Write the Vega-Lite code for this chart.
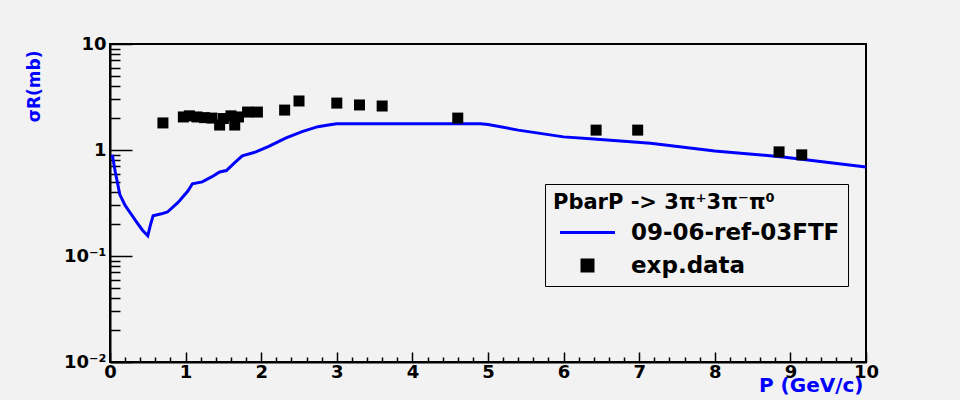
{
  "$schema": "https://vega.github.io/schema/vega-lite/v6.json",
  "width": 756,
  "height": 318,
  "autosize": "none",
  "padding": {"left": 110, "top": 44, "right": 94, "bottom": 38},
  "background": "#f2f2f2",
  "config": {
    "view": {"stroke": "black", "strokeWidth": 2, "fill": "#f2f2f2"},
    "font": "DejaVu Sans",
    "axis": {"labelFont": "DejaVu Sans", "labelFontWeight": "bold", "labelFontSize": 18, "labelColor": "black", "domainColor": "black", "domainWidth": 2, "tickColor": "black", "tickWidth": 1.5, "grid": false, "titleFont": "DejaVu Sans", "titleFontWeight": "bold", "titleColor": "#0000ff"}
  },
  "datasets": {
    "curve": [
      {"p": 0.03, "sigma": 0.9, "series": "09-06-ref-03FTF"},
      {"p": 0.07, "sigma": 0.62, "series": "09-06-ref-03FTF"},
      {"p": 0.13, "sigma": 0.38, "series": "09-06-ref-03FTF"},
      {"p": 0.2, "sigma": 0.3, "series": "09-06-ref-03FTF"},
      {"p": 0.26, "sigma": 0.26, "series": "09-06-ref-03FTF"},
      {"p": 0.35, "sigma": 0.21, "series": "09-06-ref-03FTF"},
      {"p": 0.43, "sigma": 0.175, "series": "09-06-ref-03FTF"},
      {"p": 0.5, "sigma": 0.155, "series": "09-06-ref-03FTF"},
      {"p": 0.53, "sigma": 0.19, "series": "09-06-ref-03FTF"},
      {"p": 0.57, "sigma": 0.24, "series": "09-06-ref-03FTF"},
      {"p": 0.68, "sigma": 0.25, "series": "09-06-ref-03FTF"},
      {"p": 0.76, "sigma": 0.26, "series": "09-06-ref-03FTF"},
      {"p": 0.9, "sigma": 0.32, "series": "09-06-ref-03FTF"},
      {"p": 1.03, "sigma": 0.41, "series": "09-06-ref-03FTF"},
      {"p": 1.09, "sigma": 0.48, "series": "09-06-ref-03FTF"},
      {"p": 1.22, "sigma": 0.5, "series": "09-06-ref-03FTF"},
      {"p": 1.35, "sigma": 0.56, "series": "09-06-ref-03FTF"},
      {"p": 1.45, "sigma": 0.62, "series": "09-06-ref-03FTF"},
      {"p": 1.54, "sigma": 0.64, "series": "09-06-ref-03FTF"},
      {"p": 1.65, "sigma": 0.76, "series": "09-06-ref-03FTF"},
      {"p": 1.75, "sigma": 0.88, "series": "09-06-ref-03FTF"},
      {"p": 1.93, "sigma": 0.96, "series": "09-06-ref-03FTF"},
      {"p": 2.1, "sigma": 1.08, "series": "09-06-ref-03FTF"},
      {"p": 2.33, "sigma": 1.3, "series": "09-06-ref-03FTF"},
      {"p": 2.55, "sigma": 1.5, "series": "09-06-ref-03FTF"},
      {"p": 2.75, "sigma": 1.66, "series": "09-06-ref-03FTF"},
      {"p": 2.93, "sigma": 1.74, "series": "09-06-ref-03FTF"},
      {"p": 3.0, "sigma": 1.77, "series": "09-06-ref-03FTF"},
      {"p": 4.9, "sigma": 1.77, "series": "09-06-ref-03FTF"},
      {"p": 5.0, "sigma": 1.74, "series": "09-06-ref-03FTF"},
      {"p": 5.4, "sigma": 1.54, "series": "09-06-ref-03FTF"},
      {"p": 6.0, "sigma": 1.33, "series": "09-06-ref-03FTF"},
      {"p": 6.4, "sigma": 1.27, "series": "09-06-ref-03FTF"},
      {"p": 7.15, "sigma": 1.16, "series": "09-06-ref-03FTF"},
      {"p": 8.0, "sigma": 0.98, "series": "09-06-ref-03FTF"},
      {"p": 8.9, "sigma": 0.86, "series": "09-06-ref-03FTF"},
      {"p": 10.0, "sigma": 0.69, "series": "09-06-ref-03FTF"}
    ],
    "exp": [
      {"p": 0.7, "sigma": 1.8, "series": "exp.data"},
      {"p": 0.97, "sigma": 2.05, "series": "exp.data"},
      {"p": 1.05, "sigma": 2.1, "series": "exp.data"},
      {"p": 1.15, "sigma": 2.05, "series": "exp.data"},
      {"p": 1.25, "sigma": 2.02, "series": "exp.data"},
      {"p": 1.35, "sigma": 2.0, "series": "exp.data"},
      {"p": 1.45, "sigma": 1.72, "series": "exp.data"},
      {"p": 1.5, "sigma": 1.98, "series": "exp.data"},
      {"p": 1.6, "sigma": 2.1, "series": "exp.data"},
      {"p": 1.65, "sigma": 1.72, "series": "exp.data"},
      {"p": 1.7, "sigma": 2.05, "series": "exp.data"},
      {"p": 1.82, "sigma": 2.28, "series": "exp.data"},
      {"p": 1.95, "sigma": 2.28, "series": "exp.data"},
      {"p": 2.31, "sigma": 2.38, "series": "exp.data"},
      {"p": 2.5, "sigma": 2.9, "series": "exp.data"},
      {"p": 3.0, "sigma": 2.77, "series": "exp.data"},
      {"p": 3.3, "sigma": 2.66, "series": "exp.data"},
      {"p": 3.6, "sigma": 2.6, "series": "exp.data"},
      {"p": 4.6, "sigma": 2.0, "series": "exp.data"},
      {"p": 6.43, "sigma": 1.54, "series": "exp.data"},
      {"p": 6.98, "sigma": 1.54, "series": "exp.data"},
      {"p": 8.85, "sigma": 0.96, "series": "exp.data"},
      {"p": 9.15, "sigma": 0.9, "series": "exp.data"}
    ]
  },
  "encoding": {
    "x": {
      "field": "p", "type": "quantitative",
      "scale": {"domain": [0, 10], "nice": false, "zero": false},
      "axis": {
        "title": "P (GeV/c)",
        "values": [0,0.2,0.4,0.6,0.8,1,1.2,1.4,1.6,1.8,2,2.2,2.4,2.6,2.8,3,3.2,3.4,3.6,3.8,4,4.2,4.4,4.6,4.8,5,5.2,5.4,5.6,5.8,6,6.2,6.4,6.6,6.8,7,7.2,7.4,7.6,7.8,8,8.2,8.4,8.6,8.8,9,9.2,9.4,9.6,9.8,10],
        "labelExpr": "abs(datum.value - round(datum.value)) < 0.001 ? format(datum.value, 'd') : ''",
        "tickSize": {"condition": {"test": "abs(datum.value - round(datum.value)) < 0.001", "value": -10}, "value": -5},
        "labelPadding": 11,
        "labelFlush": false,
        "labelOverlap": false,
        "titleFontSize": 20,
        "titleAnchor": "end",
        "titleAlign": "right",
        "titleBaseline": "top",
        "titleX": 753,
        "titleY": 13
      }
    },
    "y": {
      "field": "sigma", "type": "quantitative",
      "scale": {"type": "log", "domain": [0.01, 10], "nice": false},
      "axis": {
        "title": "σR(mb)",
        "values": [0.01,0.02,0.03,0.04,0.05,0.06,0.07,0.08,0.09,0.1,0.2,0.3,0.4,0.5,0.6,0.7,0.8,0.9,1,2,3,4,5,6,7,8,9,10],
        "labelExpr": "datum.value == 10 ? '10' : datum.value == 1 ? '1' : datum.value == 0.1 ? '10⁻¹' : datum.value == 0.01 ? '10⁻²' : ''",
        "tickSize": {"condition": {"test": "datum.value == 10 || datum.value == 1 || datum.value == 0.1 || datum.value == 0.01", "value": -22}, "value": -10},
        "labelPadding": 26,
        "labelFlush": false,
        "labelOverlap": false,
        "titleFontSize": 17,
        "titleAngle": -90,
        "titleAlign": "right",
        "titleBaseline": "middle",
        "titleX": -76,
        "titleY": 6
      }
    },
    "color": {
      "field": "series", "type": "nominal",
      "scale": {"domain": ["09-06-ref-03FTF", "exp.data"], "range": ["#0000ff", "#000000"]},
      "legend": {
        "title": "PbarP -> 3π⁺3π⁻π⁰",
        "orient": "none",
        "legendX": 435,
        "legendY": 140,
        "direction": "vertical",
        "fillColor": "#f2f2f2",
        "strokeColor": "black",
        "padding": 8,
        "titleFont": "DejaVu Sans",
        "titleFontSize": 21,
        "titleFontWeight": "bold",
        "titleColor": "black",
        "titlePadding": 8,
        "titleLimit": 500,
        "labelLimit": 500,
        "labelFont": "DejaVu Sans",
        "labelFontSize": 23,
        "labelFontWeight": "bold",
        "labelColor": "black",
        "labelOffset": 32,
        "symbolOffset": 23,
        "symbolSize": 3025,
        "rowPadding": 9,
        "encode": {
          "symbols": {
            "update": {
              "shape": {"signal": "datum.value === 'exp.data' ? 'square' : 'stroke'"},
              "size": {"signal": "datum.value === 'exp.data' ? 196 : 3025"},
              "fill": {"signal": "datum.value === 'exp.data' ? 'black' : 'transparent'"},
              "stroke": {"signal": "datum.value === 'exp.data' ? 'black' : '#0000ff'"},
              "strokeWidth": {"signal": "datum.value === 'exp.data' ? 0 : 3"}
            }
          }
        }
      }
    }
  },
  "layer": [
    {
      "data": {"name": "curve"},
      "mark": {"type": "line", "strokeWidth": 3, "interpolate": "linear"}
    },
    {
      "data": {"name": "exp"},
      "mark": {"type": "point", "shape": "square", "filled": true, "size": 121, "opacity": 1}
    }
  ]
}
